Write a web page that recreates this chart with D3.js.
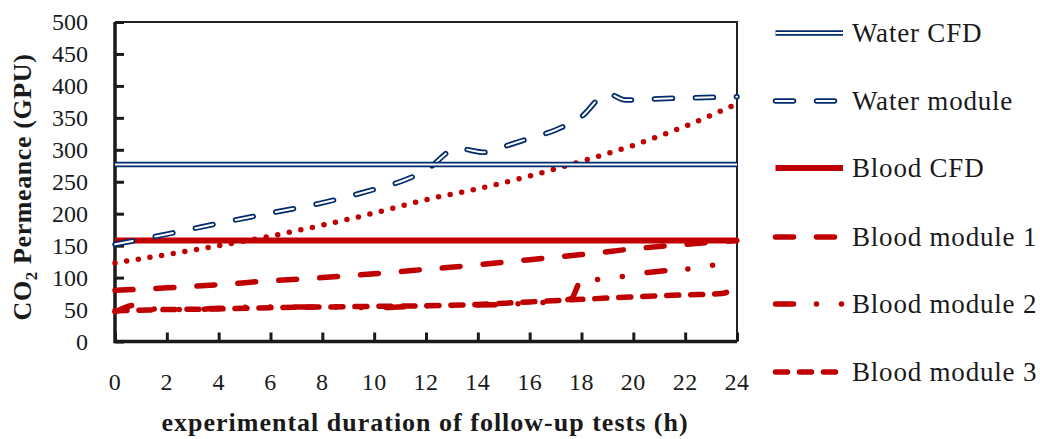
<!DOCTYPE html>
<html>
<head>
<meta charset="utf-8">
<script src="https://cdn.jsdelivr.net/npm/d3@7"></script>
<style>
  body { margin: 0; background: #fff; }
  text { font-family: "Liberation Serif", "Times New Roman", serif; fill: #1a1a1a; }
</style>
</head>
<body>
<div id="chart"></div>
<script>
// tick labels
var xTicks = [0, 2, 4, 6, 8, 10, 12, 14, 16, 18, 20, 22, 24];
var yTicks = [0, 50, 100, 150, 200, 250, 300, 350, 400, 450, 500];

// series values: [hour, permeance]
var waterCFD = [[0, 277], [24, 277]];
var waterModule = [[0, 152], [2, 168], [4, 185], [6, 201], [8, 217], [10, 238], [11, 250], [12, 268],
    [13.2, 302], [14.3, 296], [15, 305], [16, 318], [17, 331], [18, 352], [19, 388], [19.7, 378],
    [20, 378], [21, 380], [22, 381], [24, 383]];
var bloodCFD = [[0, 158], [24, 158]];
var bloodModule1 = [[0, 80], [2, 84], [4, 89], [6, 95], [8, 100], [10, 106], [12, 113], [14, 120],
    [16, 128], [18, 136], [20, 145], [22, 152], [24, 158]];
var bloodModule2 = [[0, 46], [0.8, 57], [1.5, 51], [3, 50], [4, 52], [6, 54], [8, 54], [10, 53],
    [12, 56], [14, 57], [16, 60], [17, 63], [17.6, 67], [18, 96], [19, 98], [20, 105], [21, 110],
    [22, 113], [23, 119], [24, 124]];
var bloodModule3 = [[0, 48], [2, 50], [4, 51], [6, 53], [8, 54], [10, 55], [12, 56], [14, 58],
    [16, 62], [18, 66], [20, 70], [22, 73], [23.4, 75], [24, 86]];
// dotted curve drawn in the plot without a legend entry
var dottedCurve = [[0, 123], [2, 136], [4, 150], [6, 165], [8, 182], [10, 201], [12, 222], [14, 239],
    [16, 259], [18, 282], [20, 307], [22, 337], [24, 372]];

var blue = "#022b6b", red = "#c00000";
var width = 1040, height = 439;
var margin = {left: 115, top: 22, right: 303, bottom: 97.5};

var svg = d3.select("#chart").append("svg")
    .attr("width", width)
    .attr("height", height);

var x = d3.scaleLinear().domain([0, 24]).range([margin.left, width - margin.right]);
var y = d3.scaleLinear().domain([0, 500]).range([height - margin.bottom, margin.top]);

var line = d3.line()
    .x(function (d) { return x(d[0]); })
    .y(function (d) { return y(d[1]); })
    .curve(d3.curveMonotoneX);

// frame: thin top and right edges
svg.append("path")
    .attr("d", "M" + x(0) + "," + y(500) + "H" + x(24) + "V" + y(0))
    .attr("fill", "none")
    .attr("stroke", "#222")
    .attr("stroke-width", 2);

// y axis, ticks inward
var yAxis = svg.append("g")
    .attr("transform", "translate(" + x(0) + ",0)")
    .call(d3.axisRight(y).tickValues(yTicks).tickSize(9).tickFormat(""));
yAxis.select(".domain").remove();
yAxis.selectAll("line").attr("stroke", "#1a1a1a").attr("stroke-width", 3);

svg.append("g").selectAll("text")
    .data(yTicks)
    .enter().append("text")
    .attr("x", 88)
    .attr("y", function (d) { return y(d) + 8; })
    .attr("text-anchor", "end")
    .attr("font-size", "24px")
    .text(function (d) { return d; });

// x axis, ticks upward
var xAxis = svg.append("g")
    .attr("transform", "translate(0," + y(0) + ")")
    .call(d3.axisTop(x).tickValues(xTicks).tickSize(9).tickFormat(""));
xAxis.select(".domain").remove();
xAxis.selectAll("line").attr("stroke", "#1a1a1a").attr("stroke-width", 3);

svg.append("g").selectAll("text")
    .data(xTicks)
    .enter().append("text")
    .attr("x", function (d) { return x(d); })
    .attr("y", 390)
    .attr("text-anchor", "middle")
    .attr("font-size", "24px")
    .attr("letter-spacing", "0.5px")
    .text(function (d) { return d; });

// thick left and bottom axis lines
svg.append("path")
    .attr("d", "M" + x(0) + "," + y(500) + "V" + y(0) + "H" + x(24))
    .attr("fill", "none")
    .attr("stroke", "#1a1a1a")
    .attr("stroke-width", 3.5);

// axis titles
svg.append("text")
    .attr("x", 425)
    .attr("y", 431)
    .attr("text-anchor", "middle")
    .attr("font-size", "26px")
    .attr("font-weight", "bold")
    .attr("letter-spacing", "1px")
    .text("experimental duration of follow-up tests (h)");

var yTitle = svg.append("text")
    .attr("transform", "translate(31,187) rotate(-90)")
    .attr("text-anchor", "middle")
    .attr("font-size", "26px")
    .attr("font-weight", "bold")
    .attr("letter-spacing", "0.6px");
yTitle.append("tspan").text("CO");
yTitle.append("tspan").attr("font-size", "17px").attr("dy", 6).text("2");
yTitle.append("tspan").attr("dy", -6).text(" Permeance (GPU)");

// series styles
var series = [
    {name: "Water CFD", data: waterCFD, color: blue, width: 5.5, dash: null, hollow: true},
    {name: "Water module", data: waterModule, color: blue, width: 5.5, dash: "18,23", hollow: true},
    {name: "Blood CFD", data: bloodCFD, color: red, width: 6, dash: null},
    {name: "Blood module 1", data: bloodModule1, color: red, width: 5.5, dash: "18,23"},
    {name: "Blood module 2", data: bloodModule2, color: red, width: 5.5, dash: "18,23,0,25,0,25"},
    {name: "Blood module 3", data: bloodModule3, color: red, width: 5.5, dash: "12,12"}
];

function drawStroke(sel, s, d) {
    sel.append("path")
        .attr("d", d)
        .attr("fill", "none")
        .attr("stroke", s.color)
        .attr("stroke-width", s.width)
        .attr("stroke-linecap", s.dash ? "round" : "butt")
        .attr("stroke-dasharray", s.dash);
    if (s.hollow) {
        sel.append("path")
            .attr("d", d)
            .attr("fill", "none")
            .attr("stroke", "#fff")
            .attr("stroke-width", 2)
            .attr("stroke-linecap", s.dash ? "round" : "butt")
            .attr("stroke-dasharray", s.dash);
    }
}

var gLines = svg.append("g");
// draw lower series first so CFD lines sit on top like the reference
[5, 4, 3].forEach(function (i) { drawStroke(gLines.append("g"), series[i], line(series[i].data)); });

gLines.append("path")
    .attr("d", line(dottedCurve))
    .attr("fill", "none")
    .attr("stroke", red)
    .attr("stroke-width", 5.5)
    .attr("stroke-linecap", "round")
    .attr("stroke-dasharray", "0,11.8");

[2, 1, 0].forEach(function (i) { drawStroke(gLines.append("g"), series[i], line(series[i].data)); });

// legend
var legendY = [33, 101, 168, 237, 304, 372];
var legend = svg.append("g").selectAll("g")
    .data(series)
    .enter().append("g")
    .attr("transform", function (d, i) { return "translate(0," + legendY[i] + ")"; });

legend.each(function (s) {
    drawStroke(d3.select(this), s, "M775.5,0H843");
});

legend.append("text")
    .attr("x", 852)
    .attr("y", 9)
    .attr("font-size", "27px")
    .attr("letter-spacing", "0.8px")
    .text(function (d) { return d.name; });
</script>
</body>
</html>
